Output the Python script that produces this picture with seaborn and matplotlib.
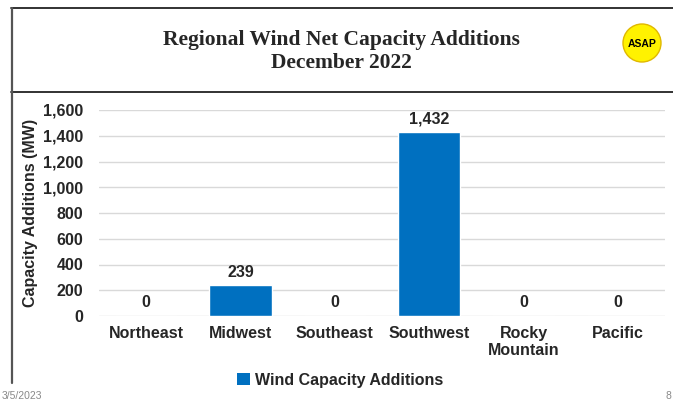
import matplotlib
matplotlib.use("Agg")
import matplotlib.pyplot as plt
import seaborn as sns
import pandas as pd
from matplotlib.lines import Line2D
from matplotlib.patches import Ellipse, Patch

regions = ["Northeast", "Midwest", "Southeast", "Southwest", "Rocky\nMountain", "Pacific"]
capacity_mw = [0, 239, 0, 1432, 0, 0]
yticks = [0, 200, 400, 600, 800, 1000, 1200, 1400, 1600]
series_name = "Wind Capacity Additions"
title_lines = "Regional Wind Net Capacity Additions\nDecember 2022"

df = pd.DataFrame({"Region": regions, "MW": capacity_mw})

sns.set_theme(style="white")
plt.rcParams["font.family"] = ["Liberation Sans", "DejaVu Sans"]

W, H = 673, 404
fig = plt.figure(figsize=(W / 100, H / 100), dpi=100)
fig.patch.set_facecolor("white")
ax = fig.add_axes([99 / W, 1 - 316 / H, (665 - 99) / W, (316 - 110) / H])

bar_color = "#0070C0"
sns.barplot(data=df, x="Region", y="MW", color=bar_color, width=0.66,
            saturation=1, ax=ax, zorder=3)

ax.set_ylim(0, 1600)
ax.set_yticks(yticks)
ax.set_yticklabels([f"{v:,}" for v in yticks], fontsize=11.5, fontweight="bold")
ax.set_xticklabels(regions, fontsize=11.5, fontweight="bold")
ax.tick_params(axis="y", length=0, pad=11.5)
ax.tick_params(axis="x", length=0, pad=7)
ax.yaxis.grid(True, color="#D9D9D9", linewidth=1, zorder=0)
ax.set_axisbelow(True)
for s in ax.spines.values():
    s.set_visible(False)
ax.set_xlabel("")
ax.set_ylabel("Capacity Additions (MW)", fontsize=11.5, fontweight="bold")
ax.yaxis.set_label_coords((38 - 99) / 566, 0.5)

for cont in ax.containers:
    ax.bar_label(cont, labels=[f"{v:,}" for v in capacity_mw], padding=4,
                 fontsize=11.5, fontweight="bold")

# Title box lines
fig.add_artist(Line2D([11 / W, 1], [1 - 8 / H, 1 - 8 / H], color="#222222", lw=1.3))
fig.add_artist(Line2D([11 / W, 1], [1 - 92 / H, 1 - 92 / H], color="#222222", lw=1.3))
fig.add_artist(Line2D([12 / W, 12 / W], [1 - 8 / H, 1 - 383 / H], color="#555555", lw=1.6))

fig.text(341 / W, 1 - 51 / H, title_lines, ha="center", va="center",
         fontsize=15.5, fontweight="bold", family="Liberation Serif", linespacing=1.2)

# Logo
logo = Ellipse((642 / W, 1 - 43 / H), 38 / W, 38 / H, transform=fig.transFigure,
               facecolor="#FFF200", edgecolor="#E0B800", lw=1)
fig.add_artist(logo)
fig.text(642 / W, 1 - 44 / H, "ASAP", ha="center", va="center",
         fontsize=7.5, fontweight="bold", color="black")

# Legend
handle = Patch(facecolor=bar_color, edgecolor="none")
fig.legend([handle], [series_name], loc="center", bbox_to_anchor=(340 / W, 1 - 380 / H),
           frameon=False, prop={"weight": "bold", "size": 11.5}, handlelength=0.8,
           handleheight=0.8, handletextpad=0.3)

fig.text(2 / W, 1 - 396 / H, "3/5/2023", fontsize=7.5, color="#898989", ha="left", va="center")
fig.text(668 / W, 1 - 396 / H, "8", fontsize=7.5, color="#898989", ha="center", va="center")

fig.savefig("out.png", dpi=100)
